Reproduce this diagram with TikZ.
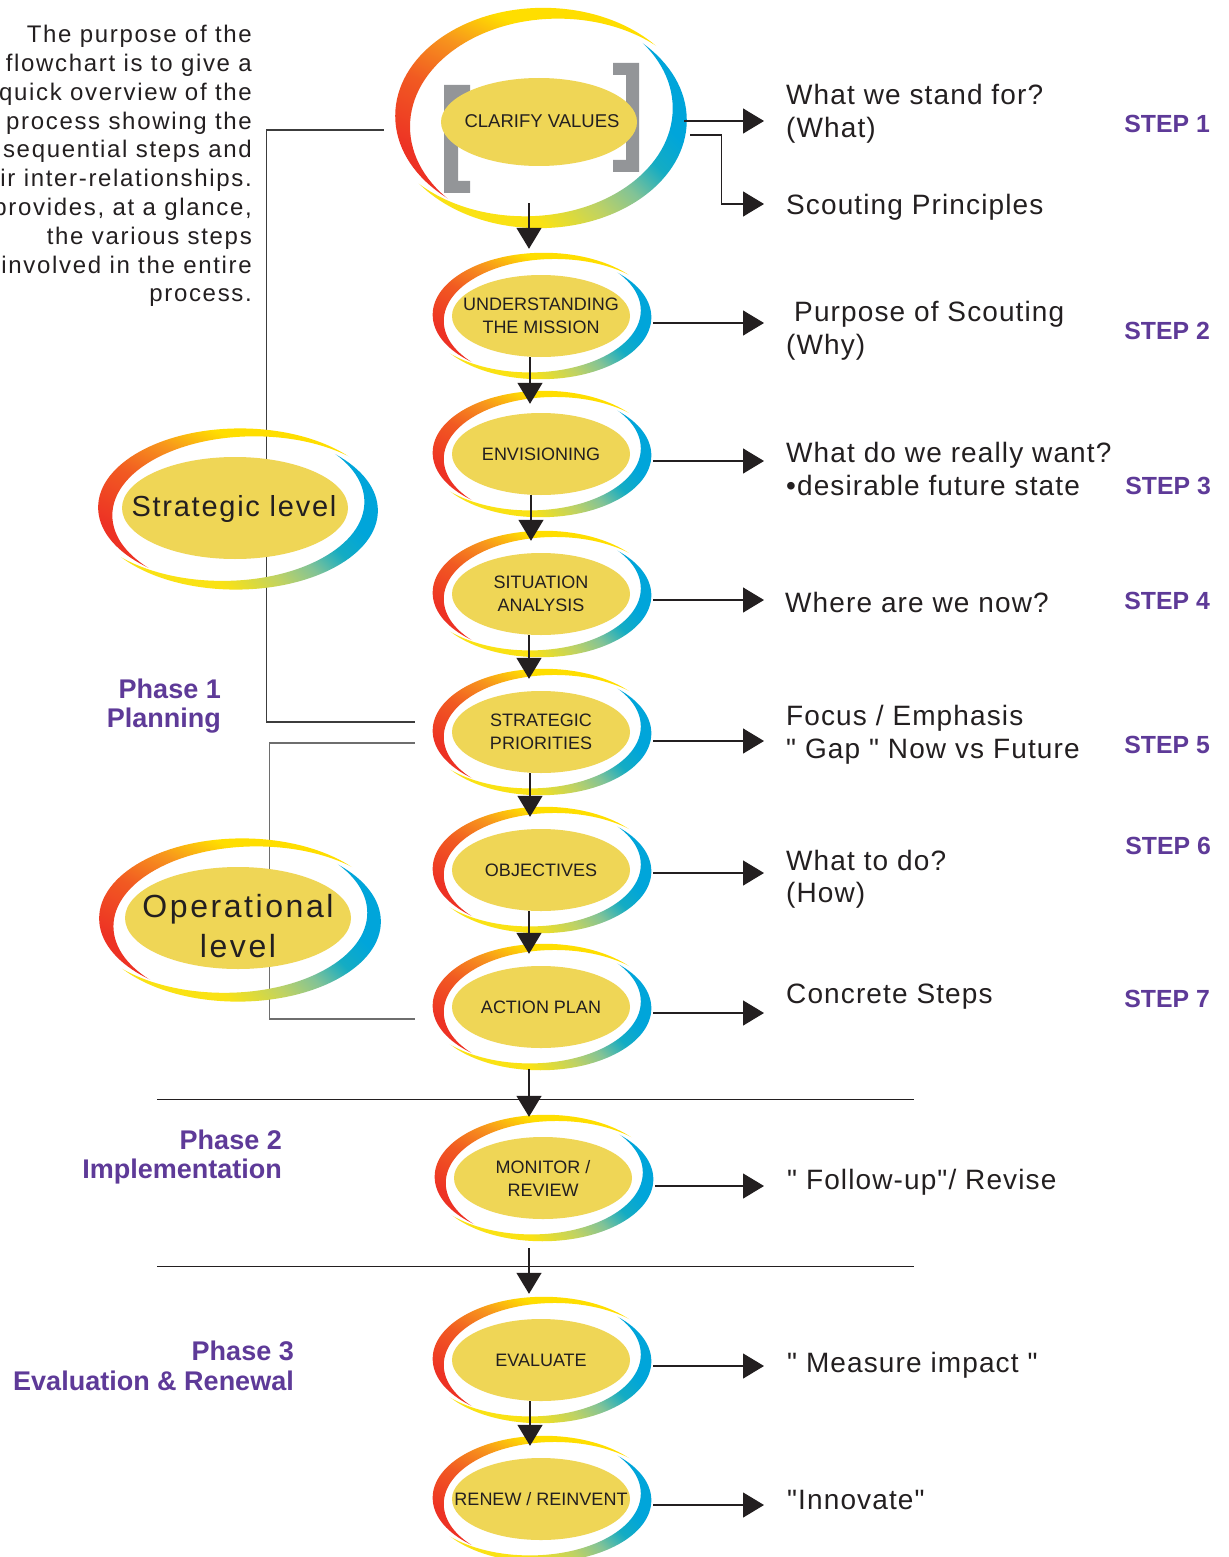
\documentclass[tikz,border=0pt]{standalone}
\usepackage{fontspec}
\setmainfont{Liberation Sans}
\newfontfamily\widefont{Liberation Sans}[LetterSpace=4]
\newfontfamily\parafont{Liberation Sans}[LetterSpace=7]
\newfontfamily\levelfont{Liberation Sans}[LetterSpace=6]
\newfontfamily\opfont{Liberation Sans}[LetterSpace=8]
\usetikzlibrary{shapes.geometric,arrows.meta,calc}

\definecolor{fillc}{RGB}{239,214,86}
\definecolor{txtc}{RGB}{35,31,32}
\definecolor{purp}{RGB}{94,58,152}
\definecolor{wred}{RGB}{237,50,36}
\definecolor{wred2}{RGB}{241,90,34}
\definecolor{worange}{RGB}{247,148,29}
\definecolor{wyellow}{RGB}{255,222,0}
\definecolor{cyellow}{RGB}{250,226,20}
\definecolor{cygreen}{RGB}{190,210,100}
\definecolor{cgreen}{RGB}{130,195,150}
\definecolor{cteal}{RGB}{20,172,195}
\definecolor{cblue}{RGB}{0,165,218}
\definecolor{bgray}{RGB}{147,149,152}
\definecolor{linec}{RGB}{60,60,60}
\definecolor{linec2}{RGB}{110,110,110}

\pgfdeclareverticalshading{warmsh}{100bp}{color(0bp)=(wred); color(32bp)=(wred); color(46bp)=(wred2); color(56bp)=(worange); color(65bp)=(wyellow); color(100bp)=(wyellow)}
\pgfdeclareverticalshading{coolsh}{100bp}{color(0bp)=(cyellow); color(36bp)=(cyellow); color(46bp)=(cygreen); color(53bp)=(cgreen); color(60bp)=(cteal); color(67bp)=(cblue); color(100bp)=(cblue)}

% #1 name, #2 cx, #3 cy, #4 outer x radius, #5 outer y radius
\newcommand\Swirl[5]{%
  \pgfmathsetmacro\wcx{#2+0.015*#4}%
  \pgfmathsetmacro\wcy{#3-0.02*#5}%
  \pgfmathsetmacro\wix{\wcx+0.10*#4}%
  \pgfmathsetmacro\wiy{\wcy+0.10*#5}%
  \pgfmathsetmacro\ccx{#2-0.015*#4}%
  \pgfmathsetmacro\ccy{#3+0.02*#5}%
  \pgfmathsetmacro\cix{\ccx-0.095*#4}%
  \pgfmathsetmacro\ciy{\ccy-0.11*#5}%
  \begin{scope}[even odd rule]
    \clip (#2-#4-30,#3-#5-30) rectangle (#2+#4+30,#3+#5+30)
      (\wix,\wiy) ellipse [x radius=#4, y radius=#5];
    \shade[shading=warmsh, shading angle=-25] (\wcx,\wcy) ellipse [x radius=#4, y radius=#5];
  \end{scope}
  \begin{scope}[even odd rule]
    \clip (#2-#4-30,#3-#5-30) rectangle (#2+#4+30,#3+#5+30)
      (\cix,\ciy) ellipse [x radius=#4, y radius=#5];
    \shade[shading=coolsh, shading angle=-45] (\ccx,\ccy) ellipse [x radius=#4, y radius=#5];
  \end{scope}
  \node[ellipse, minimum width=2*#4, minimum height=2*#5, inner sep=0pt] (#1) at (#2,#3) {};
}

\begin{document}
\begin{tikzpicture}[x=1pt,y=-1pt,
  fillell/.style={ellipse, fill=fillc, inner sep=0pt},
  smallfill/.style={fillell, minimum width=178pt, minimum height=82pt},
  lbl/.style={inner sep=0pt, align=center, text=txtc, font=\fontsize{18}{23}\selectfont},
  rtxt/.style={anchor=west, inner sep=0pt, align=left, text=txtc, font=\widefont\fontsize{28}{32.5}\selectfont},
  steplbl/.style={anchor=east, inner sep=0pt, text=purp, font=\bfseries\fontsize{24.8}{28}\selectfont},
  phaselbl/.style={anchor=east, inner sep=0pt, align=right, text=purp, font=\bfseries\fontsize{27}{29.5}\selectfont},
  arr/.style={line width=1.3pt, draw=txtc, -{Triangle[length=21pt,width=25pt]}},
  link/.style={line width=1.3pt, draw=linec}
]
\useasboundingbox (0,0) rectangle (1228,1557);
\fill[white] (0,0) rectangle (1228,1557);
\clip (0,0) rectangle (1228,1557);

% ---------- main column swirls ----------
\Swirl{o1}{541}{118}{148}{108}
\fill[bgray] (444,85) -- (470,85) -- (470,97) -- (458,97) -- (458,181) -- (470,181) -- (470,193) -- (444,193) -- cycle;
\fill[bgray] (639,63) -- (613,63) -- (613,75) -- (626,75) -- (626,160) -- (613,160) -- (613,172) -- (639,172) -- cycle;
\node[fillell, minimum width=196pt, minimum height=88pt] (n1) at (539,122) {};
\node[lbl, font=\fontsize{18.5}{23}\selectfont] (t1) at (542,121) {CLARIFY VALUES};

\Swirl{o2}{542}{316}{111}{62}
\node[smallfill] (n2) at (541,316) {};
\node[lbl] (t2) at (n2) {UNDERSTANDING\\THE MISSION};

\Swirl{o3}{542}{454}{111}{62}
\node[smallfill] (n3) at (541,454) {};
\node[lbl] (t3) at (n3) {ENVISIONING};

\Swirl{o4}{542}{594}{111}{62}
\node[smallfill] (n4) at (541,594) {};
\node[lbl] (t4) at (n4) {SITUATION\\ANALYSIS};

\Swirl{o5}{542}{732}{111}{62}
\node[smallfill] (n5) at (541,732) {};
\node[lbl] (t5) at (n5) {STRATEGIC\\PRIORITIES};

\Swirl{o6}{542}{870}{111}{62}
\node[smallfill] (n6) at (541,870) {};
\node[lbl] (t6) at (n6) {OBJECTIVES};

\Swirl{o7}{542}{1007}{111}{62}
\node[smallfill] (n7) at (541,1007) {};
\node[lbl] (t7) at (n7) {ACTION PLAN};

\Swirl{o8}{544}{1178}{111}{62}
\node[smallfill] (n8) at (543,1178) {};
\node[lbl] (t8) at (n8) {MONITOR /\\REVIEW};

\Swirl{o9}{542}{1360}{111}{62}
\node[smallfill] (n9) at (541,1360) {};
\node[lbl] (t9) at (n9) {EVALUATE};

\Swirl{o10}{542}{1499}{111}{62}
\node[smallfill] (n10) at (541,1499) {};
\node[lbl] (t10) at (n10) {RENEW / REINVENT};

% ---------- level brackets ----------
\draw[link] ($(o1.west)+(-9,12)$) -- ++(-117,0) |- ($(o5.west)+(-16,-10)$);
\draw[link, draw=linec2] ($(o5.west)+(-16,11)$) -- ++(-145,0) |- ($(o7.west)+(-16,12)$);

% ---------- left level swirls ----------
\Swirl{oS}{238}{509}{142}{79}
\node[fillell, minimum width=226pt, minimum height=102pt] (sl) at (235,508) {};
\node[lbl, font=\levelfont\fontsize{29}{34}\selectfont] (slt) at (234,509) {Strategic level};

\Swirl{oO}{240}{920}{143}{80}
\node[fillell, minimum width=226pt, minimum height=102pt] (ol) at (238,918) {};
\node[lbl, font=\opfont\fontsize{32}{40}\selectfont] (olt) at (238,926) {Operational\\level};

% ---------- phase separators ----------
\draw[line width=1pt, draw=txtc] (157,1099) -- (914,1099);
\draw[line width=1pt, draw=txtc] (157,1266) -- (914,1266);

% ---------- texts ----------
\node[anchor=east, inner sep=0pt, align=right, text=txtc, font=\parafont\fontsize{24}{28.8}\selectfont] (para) at (252,166)
 {The purpose of the\\flowchart is to give a\\quick overview of the\\process showing the\\sequential steps and\\their inter-relationships.\\It provides, at a glance,\\the various steps\\involved in the entire\\process.};

\node[rtxt] (r1) at (786,114) {What we stand for?\\(What)};
\node[rtxt] (r1b) at (786,207) {Scouting Principles};
\node[rtxt] (r2) at (786,331) {\hspace{8pt}Purpose of Scouting\\(Why)};
\node[rtxt] (r3) at (786,469) {What do we really want?\\•desirable future state};
\node[rtxt] (r4) at (785,602) {Where are we now?};
\node[rtxt] (r5) at (786,735) {Focus / Emphasis\\" Gap " Now vs Future};
\node[rtxt] (r6) at (786,879) {What to do?\\(How)};
\node[rtxt] (r7) at (786,997) {Concrete Steps};
\node[rtxt] (r8) at (787,1182) {" Follow-up"/ Revise};
\node[rtxt] (r9) at (787,1365) {" Measure impact "};
\node[rtxt] (r10) at (787,1500) {"Innovate"};

\node[steplbl] (s1) at (1210,124) {STEP 1};
\node[steplbl] (s2) at (1210,331) {STEP 2};
\node[steplbl] (s3) at (1211,486) {STEP 3};
\node[steplbl] (s4) at (1210,601) {STEP 4};
\node[steplbl] (s5) at (1210,745) {STEP 5};
\node[steplbl] (s6) at (1211,846) {STEP 6};
\node[steplbl] (s7) at (1210,999) {STEP 7};

\node[phaselbl] (p1) at (221,706) {Phase 1\\Planning};
\node[phaselbl] (p2) at (282,1157) {Phase 2\\Implementation};
\node[phaselbl] (p3) at (294,1366) {Phase 3\\Evaluation \& Renewal};

% ---------- vertical arrows ----------
\draw[arr] ($(n1.south)+(-10,37)$) -- ($(n2.north)+(-12,-26)$);
\draw[arr] ($(n2.south)+(-11,0)$) -- ($(n3.north)+(-11,-9)$);
\draw[arr] ($(n3.south)+(-10,0)$) -- ($(n4.north)+(-10,-12)$);
\draw[arr] ($(n4.south)+(-12,0)$) -- ($(n5.north)+(-12,-12)$);
\draw[arr] ($(n5.south)+(-11,0)$) -- ($(n6.north)+(-11,-12)$);
\draw[arr] ($(n6.south)+(-12,0)$) -- ($(n7.north)+(-12,-12)$);
\draw[arr] ($(n7.south)+(-12,21)$) -- ($(n8.north)+(-14,-20)$);
\draw[arr] ($(n8.south)+(-14,29)$) -- ($(n9.north)+(-12,-25)$);
\draw[arr] ($(n9.south)+(-11,0)$) -- ($(n10.north)+(-11,-12)$);

% ---------- horizontal arrows ----------
\coordinate (tipx) at (764,0);
\draw[arr] ($(o1.east)+(-5,3)$) -- ($(o1.east -| tipx)+(0,3)$);
\draw[arr] ($(o1.east)+(1,17)$) -- ++(31,0) |- ($(o1.east -| tipx)+(0,86)$);
\draw[arr] ($(o2.east)+(0,7)$) -- ($(o2.east -| tipx)+(0,7)$);
\draw[arr] ($(o3.east)+(0,7)$) -- ($(o3.east -| tipx)+(0,7)$);
\draw[arr] ($(o4.east)+(0,6)$) -- ($(o4.east -| tipx)+(0,6)$);
\draw[arr] ($(o5.east)+(0,9)$) -- ($(o5.east -| tipx)+(0,9)$);
\draw[arr] ($(o6.east)+(0,3)$) -- ($(o6.east -| tipx)+(0,3)$);
\draw[arr] ($(o7.east)+(0,6)$) -- ($(o7.east -| tipx)+(0,6)$);
\draw[arr] ($(o8.east)+(0,8)$) -- ($(o8.east -| tipx)+(0,8)$);
\draw[arr] ($(o9.east)+(0,6)$) -- ($(o9.east -| tipx)+(0,6)$);
\draw[arr] ($(o10.east)+(0,6)$) -- ($(o10.east -| tipx)+(0,6)$);
\end{tikzpicture}
\end{document}
